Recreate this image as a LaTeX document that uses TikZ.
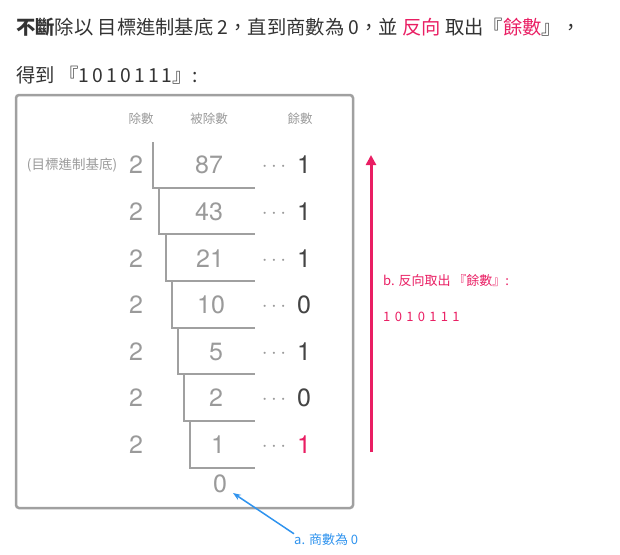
\documentclass[tikz,border=0pt]{standalone}
\usepackage{fontspec}
\setmainfont{Noto Sans CJK TC}
\newfontfamily\digitfont{TeX Gyre Heros}
\usepackage{tikz}
\usetikzlibrary{arrows.meta}

\definecolor{inkdark}{HTML}{333333}
\definecolor{inkgray}{HTML}{9A9A9A}
\definecolor{remdark}{HTML}{444444}
\definecolor{framegray}{HTML}{A0A0A0}
\definecolor{hotpink}{HTML}{E91E63}
\definecolor{skyblue}{HTML}{2F93EE}

\tikzset{
  head/.style={font=\fontsize{12.5}{12.5}\selectfont, text=inkgray},
  divisor/.style={font=\digitfont\fontsize{25}{25}\selectfont, text=inkgray},
  dividend/.style={font=\digitfont\fontsize{25}{25}\selectfont, text=inkgray},
  dots/.style={font=\fontsize{21}{21}\selectfont, text=inkgray},
  remainder/.style={font=\digitfont\fontsize{25}{25}\selectfont, text=remdark},
  note/.style={anchor=west, inner sep=0, font=\fontsize{13}{13}\selectfont},
  bracket/.style={framegray, line width=1.6pt}
}

\begin{document}
\begin{tikzpicture}[x=1pt,y=-1pt]
            \useasboundingbox (0,0) rectangle (620,554);

            \node[anchor=west, inner sep=0, font=\fontsize{19.3}{19.3}\selectfont, text=inkdark] (intro) at (16,27)
              {\textbf{不斷}除以 目標進制基底 2，直到商數為 0，並 \textcolor{hotpink}{反向} 取出『\textcolor{hotpink}{餘數}』，};
            \node[anchor=west, inner sep=0, font=\fontsize{19.3}{19.3}\selectfont, text=inkdark] (result) at (16,75)
              {得到 『1\,0\,1\,0\,1\,1\,1』:};

            \draw[framegray, line width=2.5pt, rounded corners=3pt] (16,95) rectangle (353,508);

            \node[head] (hdivisor) at (141,119) {除數};
            \node[head] (hdividend) at (209,119) {被除數};
            \node[head] (hremainder) at (300,119) {餘數};
            \node[head, font=\fontsize{13.5}{13.5}\selectfont] (base) at (72,165) {(目標進制基底)};

            % divisors
            \node[divisor] (d1) at (136,165) {2};
            \node[divisor] (d2) at (136,212) {2};
            \node[divisor] (d3) at (136,259) {2};
            \node[divisor] (d4) at (136,305) {2};
            \node[divisor] (d5) at (136,352) {2};
            \node[divisor] (d6) at (136,398) {2};
            \node[divisor] (d7) at (136,445) {2};

            % dividends
            \node[dividend] (n1) at (209,165) {87};
            \node[dividend] (n2) at (209,212) {43};
            \node[dividend] (n3) at (210,259) {21};
            \node[dividend] (n4) at (211,305) {10};
            \node[dividend] (n5) at (216,352) {5};
            \node[dividend] (n6) at (216,398) {2};
            \node[dividend] (n7) at (218,445) {1};
            \node[dividend] (n8) at (220,484) {0};

            % remainders
            \node[dots] (p1) at (274,167) {$\cdots$};
            \node[dots] (p2) at (274,214) {$\cdots$};
            \node[dots] (p3) at (274,261) {$\cdots$};
            \node[dots] (p4) at (274,307) {$\cdots$};
            \node[dots] (p5) at (274,354) {$\cdots$};
            \node[dots] (p6) at (274,400) {$\cdots$};
            \node[dots] (p7) at (274,447) {$\cdots$};
            \node[remainder] (r1) at (304,165) {1};
            \node[remainder] (r2) at (304,212) {1};
            \node[remainder] (r3) at (304,259) {1};
            \node[remainder] (r4) at (304,305) {0};
            \node[remainder] (r5) at (304,352) {1};
            \node[remainder] (r6) at (304,398) {0};
            \node[remainder, text=hotpink] (r7) at (304,445) {1};

            % division brackets
            \draw[bracket] (153,142) -- (153,188) -- (255,188);
            \draw[bracket] (159,188) -- (159,234) -- (255,234);
            \draw[bracket] (166,234) -- (166,281) -- (255,281);
            \draw[bracket] (172,281) -- (172,328) -- (255,328);
            \draw[bracket] (178,328) -- (178,374) -- (255,374);
            \draw[bracket] (184,374) -- (184,421) -- (255,421);
            \draw[bracket] (190,421) -- (190,468) -- (255,468);

            % b. reversed remainders
            \coordinate (up1) at (371,452);
            \coordinate (up2) at (371,155);
            \draw[hotpink, line width=3pt, -{Triangle[length=10pt,width=10pt]}] (up1) -- (up2);
            \node[note, text=hotpink] (stepb) at (383,281) {b. 反向取出 『餘數』:};
            \node[note, text=hotpink] (binary) at (383,317) {1\,\,0\,\,1\,\,0\,\,1\,\,1\,\,1};

            % a. quotient is zero
            \node[note, text=skyblue] (stepa) at (294,540) {a. 商數為 0};
            \draw[skyblue, line width=1.5pt, -{Stealth[length=8pt,width=6pt]}] (stepa.north west) -- (233,493);
        \end{tikzpicture}
\end{document}
